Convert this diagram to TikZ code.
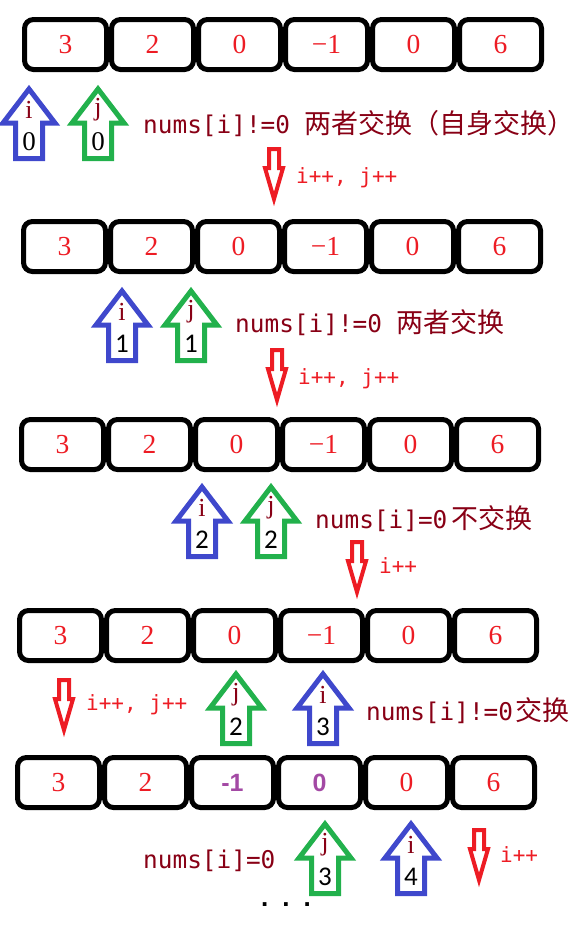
\documentclass[tikz,border=0pt]{standalone}
\usepackage{fontspec}
\setmainfont{Liberation Serif}
\newfontfamily\cjk{Noto Sans CJK SC}
\newfontfamily\monof{DejaVu Sans Mono}
\newfontfamily\numf{Carlito}
\newfontfamily\sansf{Liberation Sans}
\usepackage{tikz}
\usetikzlibrary{positioning}

\definecolor{pblue}{HTML}{3F48CC}
\definecolor{pgreen}{HTML}{22B14C}
\definecolor{pred}{HTML}{ED1C24}
\definecolor{dred}{HTML}{880015}
\definecolor{ppurple}{HTML}{A349A4}

% hollow up pointer: name, x, top, colour, letter, index
\newcommand{\ptrup}[6]{%
\begin{scope}[shift={(#2,#3)}]
\draw[ptr, draw=#4] (0,4) -- (26,38) -- (13.5,38) -- (13.5,73.5) -- (-13.5,73.5) -- (-13.5,38) -- (-26,38) -- cycle;
\node[ptrlbl] (#1l) at (0,25) {#5};
\node[ptrnum] (#1n) at (0,57) {#6};
\end{scope}}
% hollow red down arrow: x, top
\newcommand{\incdown}[2]{%
\begin{scope}[shift={(#1,#2)}]
\draw[down] (-5,2) -- (5,2) -- (5,21) -- (9,21) -- (0,52) -- (-9,21) -- (-5,21) -- cycle;
\end{scope}}

\begin{document}
\begin{tikzpicture}
[
x=1pt, y=-1pt,
cell/.style={draw=black, line width=5pt, rounded corners=9pt, minimum width=82pt, minimum height=50pt, inner sep=0, text=pred, font=\fontsize{27.5}{27.5}\selectfont, node distance=87pt},
hot/.style={cell, text=ppurple, font=\sansf\bfseries\fontsize{25}{25}\selectfont},
note/.style={anchor=base west, inner sep=0, text=dred, font=\fontsize{24.4}{27}\selectfont},
inc/.style={anchor=base west, inner sep=0, text=pred, font=\monof\fontsize{21}{21}\selectfont},
ptr/.style={line width=5pt, fill=white, line join=miter},
ptrlbl/.style={text=dred, font=\fontsize{26}{26}\selectfont, inner sep=0},
ptrnum/.style={text=black, font=\numf\fontsize{27}{27}\selectfont, inner sep=0},
down/.style={draw=pred, line width=4pt, fill=white, line join=miter}
]
\useasboundingbox (0,0) rectangle (583,927);

%Row 1
\node[cell] (a1) at (65.5,44.5) {3};
\node[cell] (a2) [right of=a1] {2};
\node[cell] (a3) [right of=a2] {0};
\node[cell] (a4) [right of=a3] {−1};
\node[cell] (a5) [right of=a4] {0};
\node[cell] (a6) [right of=a5] {6};
\ptrup{ai}{29}{85}{pblue}{i}{\rmfamily 0}
\ptrup{aj}{98}{85}{pgreen}{j}{\rmfamily 0}
\node[note] (anote) at (143,133) {\monof nums[i]!=0 \cjk\fontsize{27}{27}\selectfont 两者交换（自身交换）};
\incdown{274}{147}
\node[inc] (astep) at (296,183) {i++, j++};

%Row 2
\node[cell] (b1) at (64.5,246.5) {3};
\node[cell] (b2) [right of=b1] {2};
\node[cell] (b3) [right of=b2] {0};
\node[cell] (b4) [right of=b3] {−1};
\node[cell] (b5) [right of=b4] {0};
\node[cell] (b6) [right of=b5] {6};
\ptrup{bi}{122}{287}{pblue}{i}{1}
\ptrup{bj}{191}{287}{pgreen}{j}{1}
\node[note] (bnote) at (235,332) {\monof nums[i]!=0 \cjk\fontsize{27}{27}\selectfont 两者交换};
\incdown{277}{348}
\node[inc] (bstep) at (298,384) {i++, j++};

%Row 3
\node[cell] (c1) at (62.5,444.5) {3};
\node[cell] (c2) [right of=c1] {2};
\node[cell] (c3) [right of=c2] {0};
\node[cell] (c4) [right of=c3] {−1};
\node[cell] (c5) [right of=c4] {0};
\node[cell] (c6) [right of=c5] {6};
\ptrup{ci}{202}{483}{pblue}{i}{2}
\ptrup{cj}{271}{483}{pgreen}{j}{2}
\node[note] (cnote) at (315,528) {\monof nums[i]=0\hspace{4pt}\cjk\fontsize{27}{27}\selectfont 不交换};
\incdown{357}{540}
\node[inc] (cstep) at (379,573) {i++};

%Row 4
\node[cell] (d1) at (60.5,635.5) {3};
\node[cell] (d2) [right of=d1] {2};
\node[cell] (d3) [right of=d2] {0};
\node[cell] (d4) [right of=d3] {−1};
\node[cell] (d5) [right of=d4] {0};
\node[cell] (d6) [right of=d5] {6};
\incdown{64}{678}
\node[inc] (dstep) at (86,710) {i++, j++};
\ptrup{dj}{236}{670}{pgreen}{j}{2}
\ptrup{di}{323}{670}{pblue}{i}{3}
\node[note] (dnote) at (366,720) {\monof nums[i]!=0\hspace{2pt}\cjk\fontsize{27}{27}\selectfont 交换};

%Row 5
\node[cell] (e1) at (58.5,782.5) {3};
\node[cell] (e2) [right of=e1] {2};
\node[hot]  (e3) [right of=e2] {-1};
\node[hot]  (e4) [right of=e3] {0};
\node[cell] (e5) [right of=e4] {0};
\node[cell] (e6) [right of=e5] {6};
\node[note] (enote) at (143,868) {\monof nums[i]=0};
\ptrup{ej}{325}{820}{pgreen}{j}{3}
\ptrup{ei}{411}{820}{pblue}{i}{4}
\incdown{479}{828}
\node[inc] (estep) at (500,862) {i++};
\node[inner sep=0, font=\sansf\bfseries\fontsize{26}{26}\selectfont] (more) at (286,905) {.\hspace{14pt}.\hspace{14pt}.};

\end{tikzpicture}
\end{document}
